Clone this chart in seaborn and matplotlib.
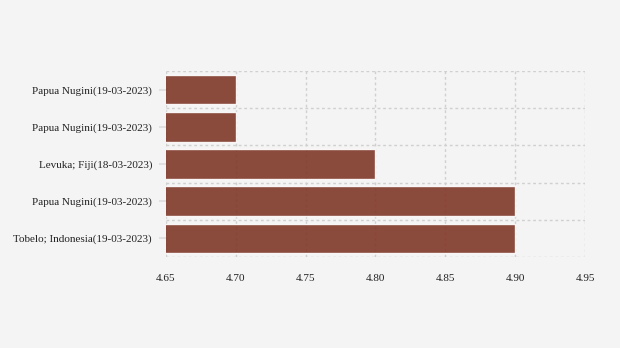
import matplotlib
matplotlib.use("Agg")
import matplotlib.pyplot as plt
import seaborn as sns
import pandas as pd
import numpy as np

labels = ["Papua Nugini(19-03-2023)", "Papua Nugini(19-03-2023)", "Levuka; Fiji(18-03-2023)",
          "Papua Nugini(19-03-2023)", "Tobelo; Indonesia(19-03-2023)"]
values = [4.70, 4.70, 4.80, 4.90, 4.90]
xticks = [4.65, 4.70, 4.75, 4.80, 4.85, 4.90, 4.95]

sns.set_theme(style="white")
plt.rcParams['font.family'] = ['Liberation Serif', 'DejaVu Serif']

df = pd.DataFrame({"key": [str(i) for i in range(len(labels))], "value": values})

fig = plt.figure(figsize=(6.2, 3.48), dpi=100, facecolor="#f4f4f4")
ax = fig.add_axes([166/620, 1-257/348, (585-166)/620, (257-71)/348])
ax.set_facecolor("#f4f4f4")
sns.barplot(data=df, x="value", y="key", orient="h", color="#7f3728", saturation=1,
            width=0.8, alpha=0.9, ax=ax)
ax.set_xlim(4.65, 4.95)
ax.set_ylim(len(labels)-0.5, -0.5)
ax.set_xticks(xticks)
ax.set_xticklabels([f"{t:.2f}" for t in xticks], fontsize=8, color="#222222")
ax.set_yticks(range(len(labels)))
ax.set_yticklabels(labels, fontsize=8, color="#222222")
ax.set_yticks(np.arange(-0.5, len(labels), 1.0), minor=True)
ax.set_xlabel("")
ax.set_ylabel("")
for s in ax.spines.values():
    s.set_visible(False)
ax.set_axisbelow(True)
ax.grid(axis="x", which="major", color="#d0d0d0", linestyle=(0, (2, 2)), linewidth=1)
ax.grid(axis="y", which="minor", color="#d0d0d0", linestyle=(0, (2, 2)), linewidth=1)
ax.grid(axis="y", which="major", visible=False)
ax.tick_params(axis="y", which="major", length=5, color="#dddddd", pad=5, left=True)
ax.tick_params(axis="y", which="minor", length=0)
ax.tick_params(axis="x", length=0, pad=12)
fig.savefig("out.png", dpi=100, facecolor="#f4f4f4")
